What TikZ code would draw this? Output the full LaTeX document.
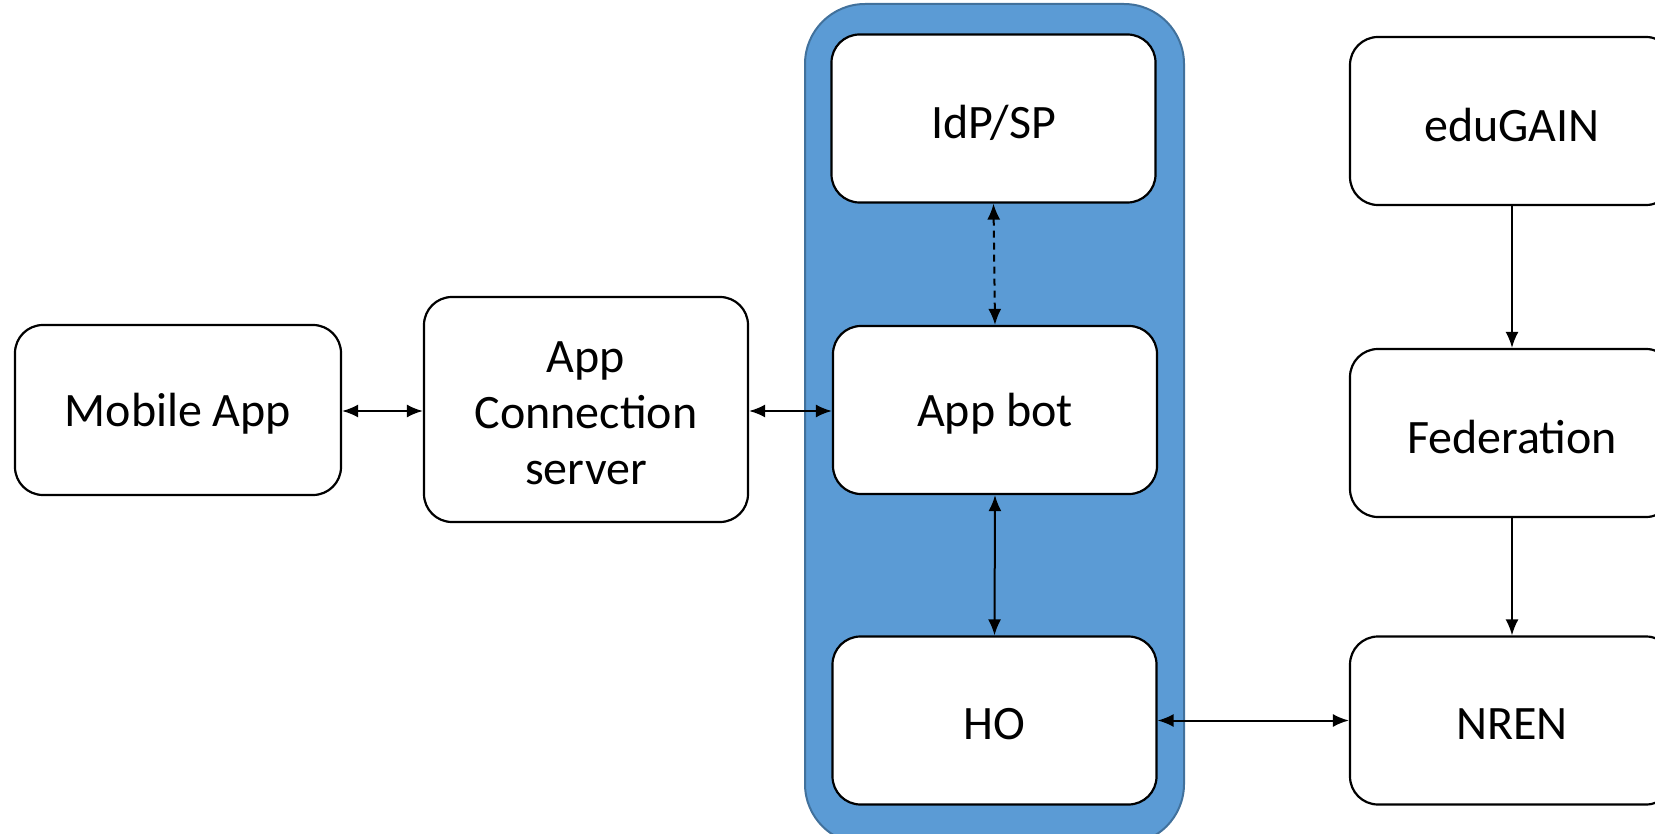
\documentclass[tikz,border=0pt]{standalone}
\usepackage{fontspec}
\setmainfont{Carlito}
\usetikzlibrary{arrows.meta}
\definecolor{cfill}{HTML}{5B9BD5}
\definecolor{cborder}{HTML}{41719C}
\tikzset{
  box/.style={draw=black, line width=2.2pt, rounded corners=28pt, fill=white,
    inner sep=0pt, minimum width=324pt, minimum height=168pt},
  txt/.style={align=center, inner sep=0pt, yshift=-4pt, font=\fontsize{48}{56}\selectfont},
  conn/.style={line width=2pt, {Latex[length=16pt,width=13pt]}-{Latex[length=16pt,width=13pt]}},
  oneway/.style={line width=2pt, -{Latex[length=16pt,width=13pt]}}
}
\begin{document}
\begin{tikzpicture}[x=1pt,y=-1pt]
\useasboundingbox (0,0) rectangle (1655,834);
\clip (0,0) rectangle (1655,834);
\node[fill=cfill, draw=cborder, line width=2pt, rounded corners=60pt, minimum width=379pt, minimum height=840pt] (group) at (994.5,424) {};
\node[box, label={[txt]center:IdP/SP}] (idp) at (993.5,118.5) {};
\node[box, label={[txt]center:App bot}] (bot) at (995,410) {};
\node[box, label={[txt]center:HO}] (ho) at (994.5,720.5) {};
\node[box, minimum width=326pt, minimum height=170pt, label={[txt]center:Mobile App}] (ma) at (178,410) {};
\node[box, minimum height=225pt, label={[txt]center:{App\\Connection\\server}}] (acs) at (586,409.5) {};
\node[box, label={[txt]center:eduGAIN}] (edu) at (1512,121) {};
\node[box, label={[txt]center:Federation}] (fed) at (1512,433) {};
\node[box, label={[txt]center:NREN}] (nren) at (1512,720.5) {};
\draw[conn] (ma.east |- 0,411) -- (acs.west |- 0,411);
\draw[conn] (acs.east |- 0,411) -- (bot.west |- 0,411);
\draw[conn, dashed, dash pattern=on 7pt off 5pt] (idp.south) -- (bot.north);
\draw[conn] (bot.south) -- (ho.north);
\draw[conn] (ho.east) -- (nren.west);
\draw[oneway] (edu.south) -- (fed.north);
\draw[oneway] (fed.south) -- (nren.north);
\end{tikzpicture}
\end{document}
